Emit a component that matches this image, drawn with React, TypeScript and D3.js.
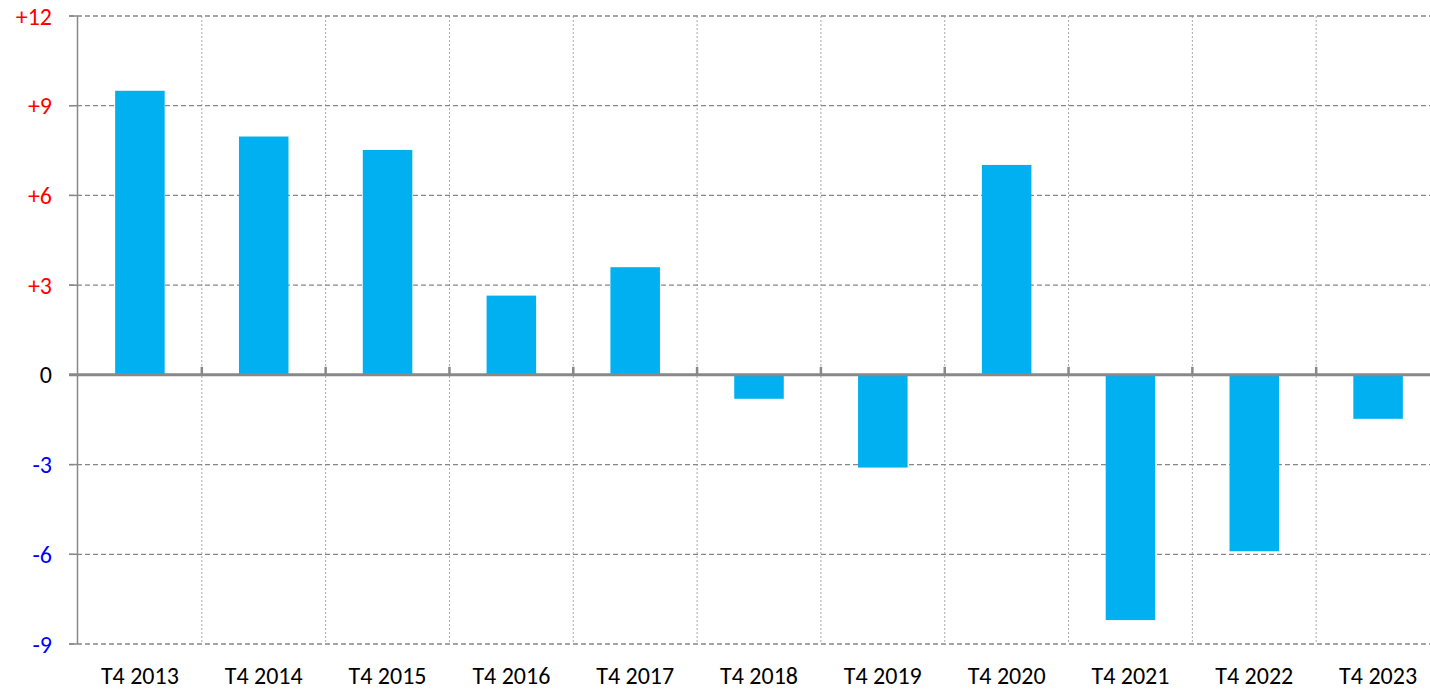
import React from "react"
import * as d3 from "d3"

const categories = [
  "T4 2013", "T4 2014", "T4 2015", "T4 2016", "T4 2017", "T4 2018",
  "T4 2019", "T4 2020", "T4 2021", "T4 2022", "T4 2023",
]
const values = [9.5, 7.97, 7.52, 2.65, 3.6, -0.8, -3.1, 7.02, -8.2, -5.9, -1.47]
const yTicks = [-9, -6, -3, 0, 3, 6, 9, 12]

const width = 1430
const height = 691
const left = 78
const right = 1440
const top = 16
const bottom = 644

export default function App() {
  const x = d3.scaleBand<string>().domain(categories).range([left, right]).paddingInner(0).paddingOuter(0)
  const y = d3.scaleLinear().domain([-9, 12]).range([bottom, top])
  const barW = x.bandwidth() * 0.4
  const font = "Carlito, Calibri, Lato, sans-serif"
  const tickLabel = (v: number) => (v > 0 ? `+${v}` : `${v}`)
  const tickColor = (v: number) => (v > 0 ? "#ff0000" : v < 0 ? "#0000ff" : "#000")

  return (
    <svg width={width} height={height} style={{ position: "absolute", left: 0, top: 0 }}>
      {/* vertical grid */}
      {categories.slice(1).map((c) => (
        <line key={c} x1={x(c)} x2={x(c)} y1={top} y2={bottom}
          stroke="#aaa" strokeWidth={1} strokeDasharray="2,2" />
      ))}
      {/* horizontal grid */}
      {yTicks.filter((t) => t !== 0).map((t) => (
        <line key={t} x1={69} x2={width} y1={y(t)} y2={y(t)}
          stroke="#888" strokeWidth={1.3} strokeDasharray="5,3" />
      ))}
      {/* bars */}
      {values.map((v, i) => (
        <rect key={i}
          x={(x(categories[i]) as number) + (x.bandwidth() - barW) / 2}
          y={y(Math.max(0, v))}
          width={barW}
          height={Math.abs(y(v) - y(0))}
          fill="#00b0f0" />
      ))}
      {/* y axis */}
      <line x1={77.5} x2={77.5} y1={top} y2={bottom} stroke="#888" strokeWidth={1.5} />
      {yTicks.map((t) => (
        <line key={t} x1={69} x2={77.5} y1={y(t)} y2={y(t)} stroke="#888" strokeWidth={1.5} />
      ))}
      {/* zero line */}
      <line x1={69} x2={width} y1={y(0)} y2={y(0)} stroke="#888" strokeWidth={3} />
      {categories.slice(1).map((c) => (
        <line key={c} x1={x(c)} x2={x(c)} y1={y(0) - 8} y2={y(0)} stroke="#888" strokeWidth={2.5} />
      ))}
      {/* y labels */}
      {yTicks.map((t) => (
        <text key={t} x={52} y={y(t)} dy="0.36em" textAnchor="end"
          fontFamily={font} fontSize={24} fill={tickColor(t)}>
          {tickLabel(t)}
        </text>
      ))}
      {/* x labels */}
      {categories.map((c) => (
        <text key={c} x={(x(c) as number) + x.bandwidth() / 2} y={684} textAnchor="middle"
          fontFamily={font} fontSize={24} fill="#000">
          {c}
        </text>
      ))}
    </svg>
  )
}
